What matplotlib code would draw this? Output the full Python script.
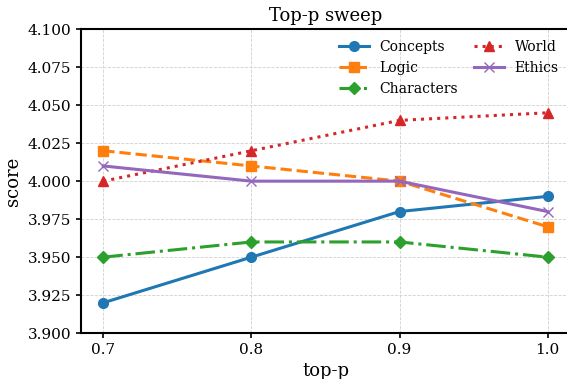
import matplotlib
matplotlib.use("Agg")
import matplotlib.pyplot as plt

top_p = [0.7, 0.8, 0.9, 1.0]
concepts = [3.92, 3.95, 3.98, 3.99]
logic = [4.02, 4.01, 4.00, 3.97]
characters = [3.95, 3.96, 3.96, 3.95]
world = [4.00, 4.02, 4.04, 4.045]
ethics = [4.01, 4.00, 4.00, 3.98]

plt.rcParams['font.family'] = 'DejaVu Serif'

fig = plt.figure(figsize=(5.67, 3.79), dpi=100)
# axes run slightly past the right edge, as in the cropped reference
ax = fig.add_axes([0.143, 0.121, 0.862, 0.802])

ax.plot(top_p, concepts, color='#1f77b4', linestyle='-', marker='o', lw=2.2, ms=7, label='Concepts')
ax.plot(top_p, logic, color='#ff7f0e', linestyle='--', marker='s', lw=2.2, ms=7, label='Logic')
ax.plot(top_p, characters, color='#2ca02c', linestyle='-.', marker='D', lw=2.2, ms=6, label='Characters')
ax.plot(top_p, world, color='#d62728', linestyle=':', marker='^', lw=2.2, ms=7, label='World')
ax.plot(top_p, ethics, color='#9467bd', linestyle='-', marker='x', lw=2.2, ms=7, label='Ethics')

ax.set_ylim(3.9, 4.1)
ax.set_xlim(0.685, 1.015)
ax.set_xticks(top_p)
ax.set_xticklabels(['0.7', '0.8', '0.9', '1.0'])
ax.set_yticks([3.9 + 0.025 * i for i in range(9)])
ax.yaxis.set_major_formatter(matplotlib.ticker.FormatStrFormatter('%.3f'))
ax.tick_params(labelsize=11, width=1.2)
ax.grid(True, linestyle='--', color='#d0d0d0', linewidth=0.6)
for s in ax.spines.values():
    s.set_linewidth(1.5)
ax.spines['right'].set_visible(False)

ax.set_title('Top-p sweep', fontsize=13)
ax.set_xlabel('top-p', fontsize=13)
ax.set_ylabel('score', fontsize=13)
ax.legend(ncol=2, frameon=False, loc='upper right', fontsize=10, handlelength=2.15,
          handletextpad=0.75, columnspacing=1.2, borderaxespad=0.4)

fig.savefig('out.png', dpi=100)
